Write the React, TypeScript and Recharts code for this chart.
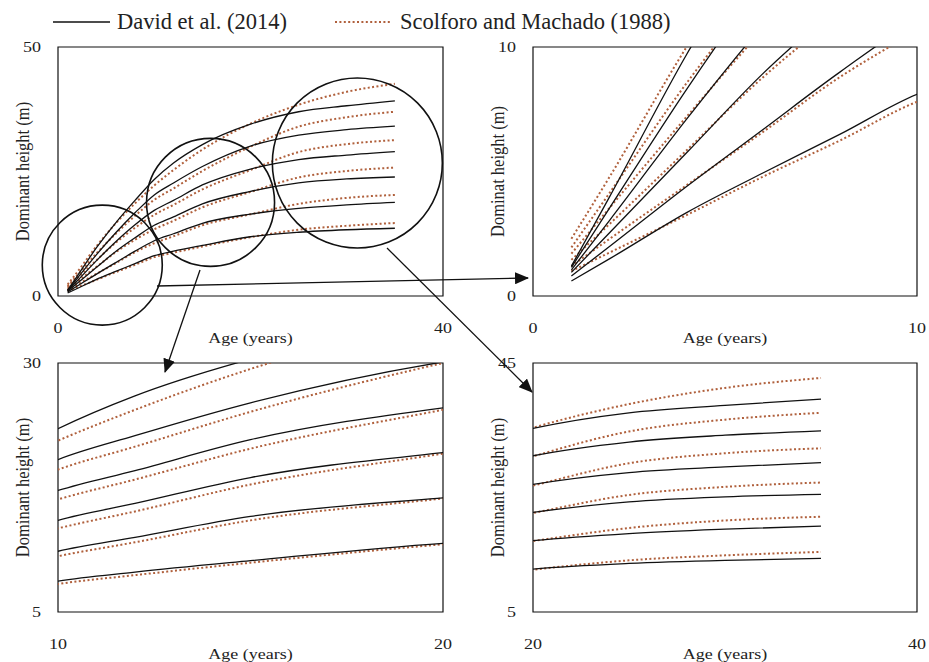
import React from "react";
import { Label, Line, LineChart, ReferenceArea, ReferenceDot, XAxis, YAxis } from "recharts";

// ages (years) at which the curves were read
const AGES = [1, 2, 4, 6, 8, 10, 12, 15, 20, 25, 30, 35];

// David et al. (2014) - dominant height (m), one array per site-index curve
const DAVID_1 = [0.6, 1.5, 3.35, 4.95, 6.5, 8.1, 9.0, 10.15, 11.9, 12.8, 13.3, 13.6];
const DAVID_2 = [0.8, 2.0, 4.4, 6.7, 9.0, 11.1, 12.5, 14.6, 16.45, 17.6, 18.3, 18.8];
const DAVID_3 = [0.95, 2.55, 5.75, 8.95, 11.7, 14.2, 15.9, 18.5, 21.0, 22.7, 23.5, 23.9];
const DAVID_4 = [1.05, 3.05, 7.1, 10.9, 14.3, 17.2, 19.2, 22.3, 25.5, 27.4, 28.3, 29.0];
const DAVID_5 = [1.15, 3.55, 8.3, 12.7, 16.7, 20.3, 22.7, 26.0, 30.1, 32.3, 33.4, 34.1];
const DAVID_6 = [1.2, 4.0, 9.7, 14.7, 19.2, 23.4, 26.7, 30.4, 34.5, 37.0, 38.2, 39.2];

// Scolforo and Machado (1988)
const SCOLFORO_1 = [1.0, 1.75, 3.25, 4.8, 6.25, 7.8, 8.7, 9.95, 11.8, 13.3, 14.1, 14.65];
const SCOLFORO_2 = [1.2, 2.3, 4.45, 6.6, 8.8, 10.6, 12.0, 14.2, 16.4, 18.5, 19.7, 20.3];
const SCOLFORO_3 = [1.45, 2.9, 5.85, 8.8, 11.3, 13.4, 15.1, 17.8, 20.9, 23.8, 25.1, 25.8];
const SCOLFORO_4 = [1.7, 3.55, 7.2, 10.7, 13.7, 16.3, 18.3, 21.4, 25.3, 28.9, 30.5, 31.3];
const SCOLFORO_5 = [1.95, 4.15, 8.55, 12.5, 16.1, 19.3, 21.6, 25.1, 30.0, 34.0, 35.9, 37.0];
const SCOLFORO_6 = [2.3, 4.8, 10.0, 14.6, 18.6, 22.2, 25.3, 29.4, 34.6, 38.4, 41.0, 42.6];

const DAVID = [DAVID_1, DAVID_2, DAVID_3, DAVID_4, DAVID_5, DAVID_6];
const SCOLFORO = [SCOLFORO_1, SCOLFORO_2, SCOLFORO_3, SCOLFORO_4, SCOLFORO_5, SCOLFORO_6];

const LEGEND = ["David et al. (2014)", "Scolforo and Machado (1988)"];

// zoom circles on the overview panel (centre in age / height)
const CIRCLE_AGES = [4.6, 15.85, 31.1];
const CIRCLE_HEIGHTS = [6.2, 18.8, 26.7];

const rows = AGES.map((age, i) => {
  const row: Record<string, number> = { age };
  DAVID.forEach((s, k) => (row[`d${k}`] = s[i]));
  SCOLFORO.forEach((s, k) => (row[`s${k}`] = s[i]));
  return row;
});

const FONT = "'Liberation Serif', 'Times New Roman', serif";
const SX = 1.2;
const BROWN = "#b0603c";
const CIRCLE_R = [60, 64, 85];

const PANELS = [
  { x: [0, 40], y: [0, 50], yLabel: "Dominant height (m)", left: 0, top: 0, width: 460, height: 350, margin: { top: 47, left: 18, right: 17, bottom: 24 }, circles: true },
  { x: [0, 10], y: [0, 10], yLabel: "Dominat height (m)", left: 460, top: 0, width: 469, height: 350, margin: { top: 47, left: 33, right: 12, bottom: 24 }, circles: false },
  { x: [10, 20], y: [5, 30], yLabel: "Dominant height (m)", left: 0, top: 330, width: 460, height: 332, margin: { top: 33, left: 18, right: 17, bottom: 20 }, circles: false },
  { x: [20, 40], y: [5, 45], yLabel: "Dominant height (m)", left: 460, top: 330, width: 469, height: 332, margin: { top: 33, left: 33, right: 12, bottom: 20 }, circles: false },
];

function XTick({ x, y, payload }: any) {
  return (
    <g transform={`translate(${x},${y + 32}) scale(${SX},1)`}>
      <text textAnchor="middle" dy="0.35em" fontSize={15} fontFamily={FONT} fill="#222">{payload.value}</text>
    </g>
  );
}

function YTick({ x, y, payload }: any) {
  return (
    <g transform={`translate(${x - 17},${y}) scale(${SX},1)`}>
      <text textAnchor="end" dy="0.35em" fontSize={15} fontFamily={FONT} fill="#222">{payload.value}</text>
    </g>
  );
}

function xTitle(props: any) {
  const vb = props.viewBox;
  return (
    <g transform={`translate(${vb.x + vb.width / 2},${vb.y + 42}) scale(${SX},1)`}>
      <text textAnchor="middle" dy="0.35em" fontSize={15} fontFamily={FONT} fill="#222">Age (years)</text>
    </g>
  );
}

function yTitle(text: string) {
  return (props: any) => {
    const vb = props.viewBox;
    return (
      <g transform={`translate(${vb.x + vb.width - 36},${vb.y + vb.height / 2}) scale(${SX},1) rotate(-90)`}>
        <text textAnchor="middle" dy="0.35em" fontSize={16.5} fontFamily={FONT} fill="#222">{text}</text>
      </g>
    );
  };
}

function Panel({ p }: { p: (typeof PANELS)[number] }) {
  return (
    <div style={{ position: "absolute", left: p.left, top: p.top }}>
      <LineChart width={p.width} height={p.height} data={rows} margin={p.margin}>
        <XAxis dataKey="age" type="number" domain={p.x} ticks={p.x} interval={0} allowDataOverflow height={30}
          axisLine={false} tickLine={false} tickSize={0} tickMargin={0} tick={<XTick />}>
          <Label content={xTitle} />
        </XAxis>
        <YAxis type="number" domain={p.y} ticks={p.y} interval={0} allowDataOverflow width={40}
          axisLine={false} tickLine={false} tickSize={0} tickMargin={0} tick={<YTick />}>
          <Label content={yTitle(p.yLabel)} />
        </YAxis>
        <ReferenceArea x1={p.x[0]} x2={p.x[1]} y1={p.y[0]} y2={p.y[1]} fill="none" stroke="#111" strokeWidth={1.2} strokeOpacity={1} fillOpacity={0} ifOverflow="visible" />
        {SCOLFORO.map((_, k) => (
          <Line key={`s${k}`} dataKey={`s${k}`} type="monotone" stroke={BROWN} strokeWidth={2} strokeDasharray="2 2.4" dot={false} activeDot={false} isAnimationActive={false} />
        ))}
        {DAVID.map((_, k) => (
          <Line key={`d${k}`} dataKey={`d${k}`} type="monotone" stroke="#111" strokeWidth={1.3} dot={false} activeDot={false} isAnimationActive={false} />
        ))}
        {p.circles &&
          CIRCLE_AGES.map((a, i) => (
            <ReferenceDot key={i} x={a} y={CIRCLE_HEIGHTS[i]} r={CIRCLE_R[i]} fill="none" stroke="#111" strokeWidth={1.6} ifOverflow="visible" />
          ))}
      </LineChart>
    </div>
  );
}

export default function App() {
  return (
    <div style={{ position: "absolute", left: 0, top: 0, width: 929, height: 662, background: "#fff", fontFamily: FONT }}>
      {PANELS.map((p, i) => (
        <Panel key={i} p={p} />
      ))}
      <svg width={929} height={662} style={{ position: "absolute", left: 0, top: 0, pointerEvents: "none" }}>
        <defs>
          <marker id="head" markerWidth={14} markerHeight={12} refX={13} refY={6} orient="auto" markerUnits="userSpaceOnUse">
            <path d="M0,0 L14,6 L0,12 z" fill="#111" />
          </marker>
        </defs>
        <line x1={157} y1={286} x2={528} y2={278} stroke="#111" strokeWidth={1.3} markerEnd="url(#head)" />
        <line x1={200} y1={270} x2={165} y2={372} stroke="#111" strokeWidth={1.3} markerEnd="url(#head)" />
        <line x1={387} y1={248} x2={532} y2={392} stroke="#111" strokeWidth={1.3} markerEnd="url(#head)" />
        <line x1={53} y1={22} x2={110} y2={22} stroke="#111" strokeWidth={1.5} />
        <text x={117} y={29} fontSize={22.5} fontFamily={FONT} fill="#222">{LEGEND[0]}</text>
        <line x1={335} y1={22} x2={392} y2={22} stroke={BROWN} strokeWidth={2} strokeDasharray="2 2.4" />
        <text x={400} y={29} fontSize={22.5} fontFamily={FONT} fill="#222">{LEGEND[1]}</text>
      </svg>
    </div>
  );
}
